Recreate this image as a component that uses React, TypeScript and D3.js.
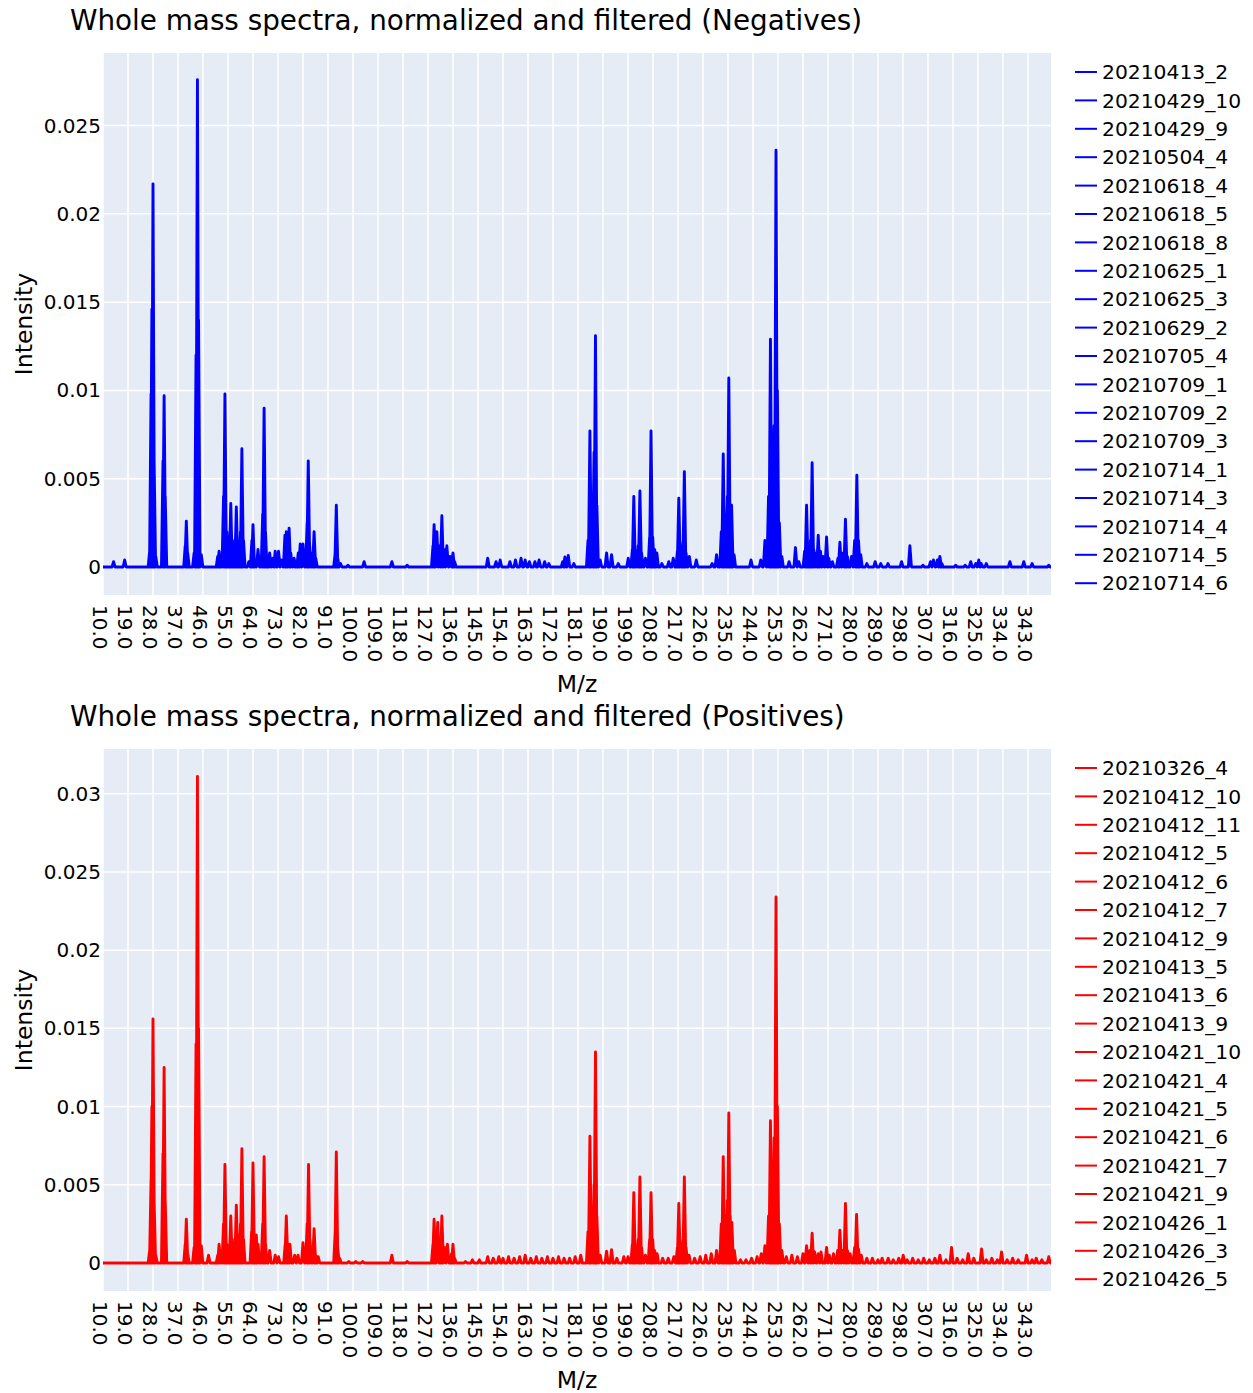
import React from 'react';
import * as d3 from 'd3';

const FONT = '"DejaVu Sans", Verdana, sans-serif';

// m/z tick labels (every 9 units)
const xTickValues = [10, 19, 28, 37, 46, 55, 64, 73, 82, 91, 100, 109, 118, 127, 136, 145, 154, 163, 172, 181, 190, 199, 208, 217, 226, 235, 244, 253, 262, 271, 280, 289, 298, 307, 316, 325, 334, 343];
const negYTicks = [0, 0.005, 0.01, 0.015, 0.02, 0.025];
const posYTicks = [0, 0.005, 0.01, 0.015, 0.02, 0.025, 0.03];

const negNames = ['20210413_2', '20210429_10', '20210429_9', '20210504_4', '20210618_4', '20210618_5', '20210618_8', '20210625_1', '20210625_3', '20210629_2', '20210705_4', '20210709_1', '20210709_2', '20210709_3', '20210714_1', '20210714_3', '20210714_4', '20210714_5', '20210714_6'];
const posNames = ['20210326_4', '20210412_10', '20210412_11', '20210412_5', '20210412_6', '20210412_7', '20210412_9', '20210413_5', '20210413_6', '20210413_9', '20210421_10', '20210421_4', '20210421_5', '20210421_6', '20210421_7', '20210421_9', '20210426_1', '20210426_3', '20210426_5'];

// [m/z, intensity] peaks
const negPeaks: [number, number][] = [
  [13.8, 0.0003], [17.8, 0.0004],
  [26.8, 0.0009], [27.3, 0.0098], [27.6, 0.0146], [28.0, 0.0217], [28.4, 0.006], [29.0, 0.0006],
  [31.6, 0.006], [32.0, 0.0097], [32.4, 0.004],
  [39.6, 0.0012], [40.0, 0.0026], [40.5, 0.0008],
  [42.8, 0.0008], [43.5, 0.012], [44.0, 0.0276], [44.4, 0.014], [45.4, 0.0007],
  [51.3, 0.0006], [51.8, 0.0009], [53.4, 0.004], [53.9, 0.0098], [54.6, 0.002], [55.3, 0.0012], [56.0, 0.0036],
  [56.8, 0.0012], [57.4, 0.0015], [58.0, 0.0034], [58.8, 0.001], [59.5, 0.002], [60.0, 0.0067], [60.6, 0.0015],
  [62.5, 0.0003], [63.6, 0.0015], [64.0, 0.0024], [64.5, 0.0004], [65.8, 0.001], [67.5, 0.003], [68.0, 0.009],
  [68.5, 0.002], [69.3, 0.0005], [70.0, 0.0008], [71.2, 0.0005], [72.0, 0.0009], [73.2, 0.0009], [74.2, 0.0004],
  [75.5, 0.0018], [76.0, 0.002], [77.0, 0.0022], [77.6, 0.0008], [78.8, 0.0005], [79.6, 0.0003], [80.3, 0.0008],
  [81.0, 0.0013], [82.0, 0.0013], [83.5, 0.0025], [83.9, 0.006], [84.3, 0.0015], [85.5, 0.0008], [86.0, 0.002],
  [86.6, 0.0005], [93.6, 0.0008], [94.0, 0.0035], [94.5, 0.0005], [95.5, 0.0002], [98.2, 0.0001], [104, 0.0003],
  [114, 0.0003], [119.5, 0.0001],
  [128.8, 0.0012], [129.2, 0.0024], [130.2, 0.002], [131.2, 0.0012], [132.0, 0.0029], [132.8, 0.001],
  [133.8, 0.0012], [135.0, 0.0006], [136.0, 0.0008], [136.6, 0.0003],
  [148.5, 0.0005], [151.5, 0.0003], [153.0, 0.0004], [156.5, 0.0003], [158.5, 0.0004], [160.5, 0.0005],
  [162.0, 0.0004], [163.5, 0.0003], [165.5, 0.0003], [167.0, 0.0004], [169.0, 0.0003], [170.5, 0.0002], [175.5, 0.0003],
  [176.3, 0.00057], [177.5, 0.00066], [179.5, 0.0002], [184.6, 0.0015], [185.3, 0.0077], [186.0, 0.002],
  [186.8, 0.0065], [187.3, 0.0131], [187.8, 0.0035], [189.0, 0.0004], [191.3, 0.0008], [193.1, 0.0007],
  [195.5, 0.0002], [199.1, 0.0005], [200.6, 0.001], [201.1, 0.004], [201.7, 0.0009], [202.7, 0.0012],
  [203.3, 0.0043], [203.9, 0.0008], [205.3, 0.0005], [206.8, 0.0017], [207.3, 0.0077], [207.9, 0.0017],
  [208.6, 0.001], [209.4, 0.0008], [211.2, 0.0002], [213.7, 0.0003], [215.3, 0.0005], [216.8, 0.0009],
  [217.3, 0.0039], [217.9, 0.0009], [218.8, 0.0014], [219.3, 0.0054], [219.9, 0.0008], [221.1, 0.0006],
  [223.6, 0.0004], [229.3, 0.0002], [230.9, 0.0007], [232.6, 0.002], [233.3, 0.0064], [233.9, 0.003],
  [234.8, 0.004], [235.3, 0.0107], [235.8, 0.003], [236.3, 0.0035], [237.2, 0.0007], [243.3, 0.0004],
  [246.8, 0.0004], [248.3, 0.0015], [249.6, 0.004], [250.3, 0.0129], [250.9, 0.002], [251.6, 0.008],
  [252.3, 0.0236], [252.8, 0.01], [253.5, 0.0025], [254.4, 0.0006], [257.0, 0.0003], [259.3, 0.0011],
  [260.5, 0.0003], [262.6, 0.0009], [263.3, 0.0035], [264.0, 0.0008], [264.7, 0.0015], [265.3, 0.0059],
  [265.9, 0.001], [266.8, 0.0008], [267.5, 0.0018], [268.3, 0.0009], [269.2, 0.0006], [270.5, 0.0017],
  [271.3, 0.0005], [272.6, 0.0003], [274.6, 0.0005], [275.3, 0.0014], [276.5, 0.0008], [277.3, 0.0027],
  [278.0, 0.0006], [279.5, 0.0006], [280.6, 0.0015], [281.4, 0.0052], [282.0, 0.0015], [282.8, 0.0007],
  [285.0, 0.0002], [288.0, 0.0003], [290.0, 0.0002], [292.6, 0.0002], [297.5, 0.0003], [300.5, 0.0012],
  [305.2, 0.0001], [307.9, 0.0003], [309.0, 0.0004], [310.4, 0.0004], [311.3, 0.0006], [312.0, 0.0002],
  [317.0, 0.0001], [320.4, 0.0001], [322.4, 0.0003], [324.2, 0.0002], [325.3, 0.0004], [326.2, 0.0002],
  [328.0, 0.0002], [336.5, 0.0003], [341.5, 0.0003], [344.5, 0.0002], [350.5, 0.0001],
];

const posPeaks: [number, number][] = [
  [26.8, 0.0008], [27.3, 0.0053], [27.6, 0.01], [28.0, 0.0156], [28.4, 0.004], [29.0, 0.0005],
  [31.6, 0.007], [32.0, 0.0125], [32.4, 0.004], [39.6, 0.0012], [40.0, 0.0028], [40.5, 0.0006],
  [42.8, 0.001], [43.5, 0.014], [44.0, 0.0311], [44.4, 0.015], [45.4, 0.0011], [48.0, 0.0005],
  [51.3, 0.0005], [51.8, 0.0012], [53.4, 0.0025], [53.9, 0.0063], [54.6, 0.0012], [55.3, 0.001],
  [56.0, 0.003], [56.8, 0.001], [57.4, 0.0015], [58.0, 0.0037], [58.8, 0.001], [59.5, 0.0025],
  [60.0, 0.0073], [60.6, 0.0015], [63.5, 0.002], [64.0, 0.0064], [64.6, 0.0012], [65.2, 0.0018],
  [65.8, 0.0012], [67.5, 0.0025], [68.0, 0.0068], [68.5, 0.0012], [70.0, 0.0008], [72.0, 0.0005],
  [73.2, 0.0004], [75.6, 0.0012], [76.0, 0.003], [76.6, 0.0008], [77.3, 0.0012], [79.0, 0.0005],
  [80.2, 0.0005], [82.0, 0.0013], [83.5, 0.0025], [84.0, 0.0063], [84.5, 0.0015], [86.0, 0.0022],
  [86.6, 0.0005], [87.5, 0.0004], [93.6, 0.002], [94.0, 0.0071], [94.5, 0.001], [95.2, 0.0003],
  [98.5, 0.0001], [101.0, 0.0001], [103.5, 0.0001], [114.0, 0.0005], [119.5, 0.0001],
  [128.8, 0.0012], [129.2, 0.0028], [130.5, 0.0026], [131.5, 0.0012], [132.0, 0.003], [133.0, 0.001],
  [134.0, 0.0012], [135.5, 0.0006], [136.0, 0.0012], [136.6, 0.0003],
  [140.5, 0.0001], [143.0, 0.0002], [145.5, 0.0002], [148.5, 0.0004], [150.5, 0.0003], [152.5, 0.0004],
  [154.0, 0.0003], [156.0, 0.0004], [158.0, 0.0003], [160.0, 0.0004], [162.0, 0.0005], [164.0, 0.0003],
  [166.0, 0.0004], [168.0, 0.0003], [170.0, 0.0004], [172.0, 0.0003], [174.0, 0.0004], [176.0, 0.0003],
  [178.0, 0.0003], [180.0, 0.0004], [182.0, 0.0005],
  [184.6, 0.002], [185.3, 0.0081], [186.0, 0.002], [186.8, 0.005], [187.3, 0.0135], [187.8, 0.003],
  [189.0, 0.0005], [191.3, 0.00075], [193.1, 0.00085], [195.0, 0.0003], [197.5, 0.0004], [199.0, 0.0004],
  [200.6, 0.0012], [201.1, 0.0045], [201.7, 0.001], [202.7, 0.0015], [203.3, 0.0055], [203.9, 0.001],
  [205.3, 0.0005], [206.8, 0.0015], [207.3, 0.0045], [207.9, 0.0015], [208.6, 0.0008], [209.5, 0.0006],
  [211.5, 0.0003], [213.5, 0.0003], [215.5, 0.0004], [216.8, 0.001], [217.3, 0.0038], [217.9, 0.001],
  [218.8, 0.0015], [219.3, 0.0055], [219.9, 0.001], [221.0, 0.0005], [223.0, 0.0003], [225.0, 0.0004],
  [227.0, 0.0005], [229.0, 0.0006], [230.9, 0.0008], [232.6, 0.0025], [233.3, 0.0068], [233.9, 0.003],
  [234.8, 0.004], [235.3, 0.0096], [235.8, 0.003], [236.4, 0.0026], [237.3, 0.0008], [239.5, 0.0002],
  [241.5, 0.0002], [243.5, 0.0003], [245.5, 0.0004], [247.0, 0.0006], [248.3, 0.0011], [249.6, 0.003],
  [250.3, 0.0091], [250.9, 0.002], [251.6, 0.008], [252.3, 0.0234], [252.8, 0.01], [253.5, 0.0025],
  [254.4, 0.0008], [256.0, 0.0004], [258.0, 0.0005], [260.0, 0.0004], [262.0, 0.0006], [263.3, 0.0011],
  [264.5, 0.0008], [265.3, 0.0019], [266.2, 0.0007], [267.5, 0.0006], [268.5, 0.0007], [270.5, 0.001],
  [271.5, 0.0005], [273.0, 0.0006], [274.5, 0.0008], [275.3, 0.0021], [276.2, 0.0008], [277.3, 0.0038],
  [278.0, 0.0008], [279.0, 0.0006], [280.6, 0.001], [281.3, 0.0031], [282.0, 0.0009], [283.0, 0.0005],
  [285.0, 0.0003], [287.0, 0.0003], [289.0, 0.0002], [290.5, 0.0003], [292.7, 0.0003], [294.5, 0.0002],
  [296.5, 0.0003], [298.1, 0.0005], [299.5, 0.0002], [301.5, 0.0003], [303.5, 0.0002], [305.5, 0.0003],
  [307.5, 0.0002], [309.5, 0.0003], [311.3, 0.0005], [313.5, 0.0002], [315.5, 0.001], [317.5, 0.0003],
  [319.5, 0.0002], [321.5, 0.0006], [323.5, 0.0003], [326.3, 0.0009], [328.0, 0.0002], [330.0, 0.0003],
  [332.0, 0.0002], [333.5, 0.0007], [335.5, 0.0002], [337.5, 0.0003], [339.5, 0.0002], [342.5, 0.0005],
  [344.5, 0.0002], [346.0, 0.0003], [348.0, 0.0002], [350.5, 0.0004],
];

const X_MIN = 10;
const X_MAX = 351.3;
const PEAK_HALF = 0.55;

type SpectrumProps = {
  id: string;
  top: number;
  title: string;
  peaks: [number, number][];
  names: string[];
  color: string;
  yDomain: [number, number];
  yTicks: number[];
};

const Spectrum = ({ id, top, title, peaks, names, color, yDomain, yTicks }: SpectrumProps) => {
  const left = 103, right = 1051, plotTop = 53, plotBottom = 595;
  const x = d3.scaleLinear().domain([X_MIN, X_MAX]).range([left, right]);
  const y = d3.scaleLinear().domain(yDomain).range([plotBottom, plotTop]);

  // baseline with a narrow spike for every peak
  const pts: [number, number][] = [[X_MIN, 0]];
  peaks.forEach(([mz, v]) => {
    pts.push([mz - PEAK_HALF, 0], [mz, v], [mz + PEAK_HALF, 0]);
  });
  pts.push([X_MAX, 0]);
  const line = d3.line<[number, number]>().x(d => x(d[0])).y(d => y(d[1]));

  return (
    <g transform={`translate(0,${top})`} fontFamily={FONT}>
      <defs>
        <clipPath id={`clip-${id}`}>
          <rect x={left} y={plotTop} width={right - left} height={plotBottom - plotTop} />
        </clipPath>
      </defs>
      <text x={70} y={30} fontSize={27.8} fill="#000">{title}</text>
      <rect x={left} y={plotTop} width={right - left} height={plotBottom - plotTop} fill="#E5ECF6" />
      {xTickValues.map(t => (
        <line key={`gx${t}`} x1={x(t)} x2={x(t)} y1={plotTop} y2={plotBottom} stroke="#fff" strokeWidth={1.5} />
      ))}
      {yTicks.map(t => (
        <line key={`gy${t}`} x1={left} x2={right} y1={y(t)} y2={y(t)} stroke="#fff" strokeWidth={t === 0 ? 3 : 1.5} />
      ))}
      <path d={line(pts) || ''} fill="none" stroke={color} strokeWidth={2.9} strokeLinejoin="round" clipPath={`url(#clip-${id})`} />
      {yTicks.map(t => (
        <text key={`ty${t}`} x={101} y={y(t)} dy="0.35em" textAnchor="end" fontSize={20} fill="#000">{String(t)}</text>
      ))}
      {xTickValues.map(t => (
        <text key={`tx${t}`} transform={`translate(${x(t) - 3.3},605) rotate(90)`} dy="0.35em" textAnchor="start" fontSize={20} fill="#000">
          {t.toFixed(1)}
        </text>
      ))}
      <text x={(left + right) / 2} y={692} textAnchor="middle" fontSize={23.5} fill="#000">M/z</text>
      <text transform={`translate(32,${(plotTop + plotBottom) / 2}) rotate(-90)`} textAnchor="middle" fontSize={23.5} fill="#000">Intensity</text>
      {names.map((n, i) => (
        <g key={n} transform={`translate(0,${72 + i * 28.4})`}>
          <line x1={1075} x2={1097} y1={0} y2={0} stroke={color} strokeWidth={2} />
          <text x={1102} y={0} dy="0.35em" fontSize={20.3} fill="#000">{n}</text>
        </g>
      ))}
    </g>
  );
};

export default function App() {
  return (
    <svg width={1253} height={1393} style={{ position: 'absolute', left: 0, top: 0, background: '#fff' }}>
      <Spectrum
        id="neg"
        top={0}
        title="Whole mass spectra, normalized and filtered (Negatives)"
        peaks={negPeaks}
        names={negNames}
        color="#0000ff"
        yDomain={[-0.001586, 0.02911]}
        yTicks={negYTicks}
      />
      <Spectrum
        id="pos"
        top={696}
        title="Whole mass spectra, normalized and filtered (Positives)"
        peaks={posPeaks}
        names={posNames}
        color="#ff0000"
        yDomain={[-0.00179, 0.03286]}
        yTicks={posYTicks}
      />
    </svg>
  );
}
